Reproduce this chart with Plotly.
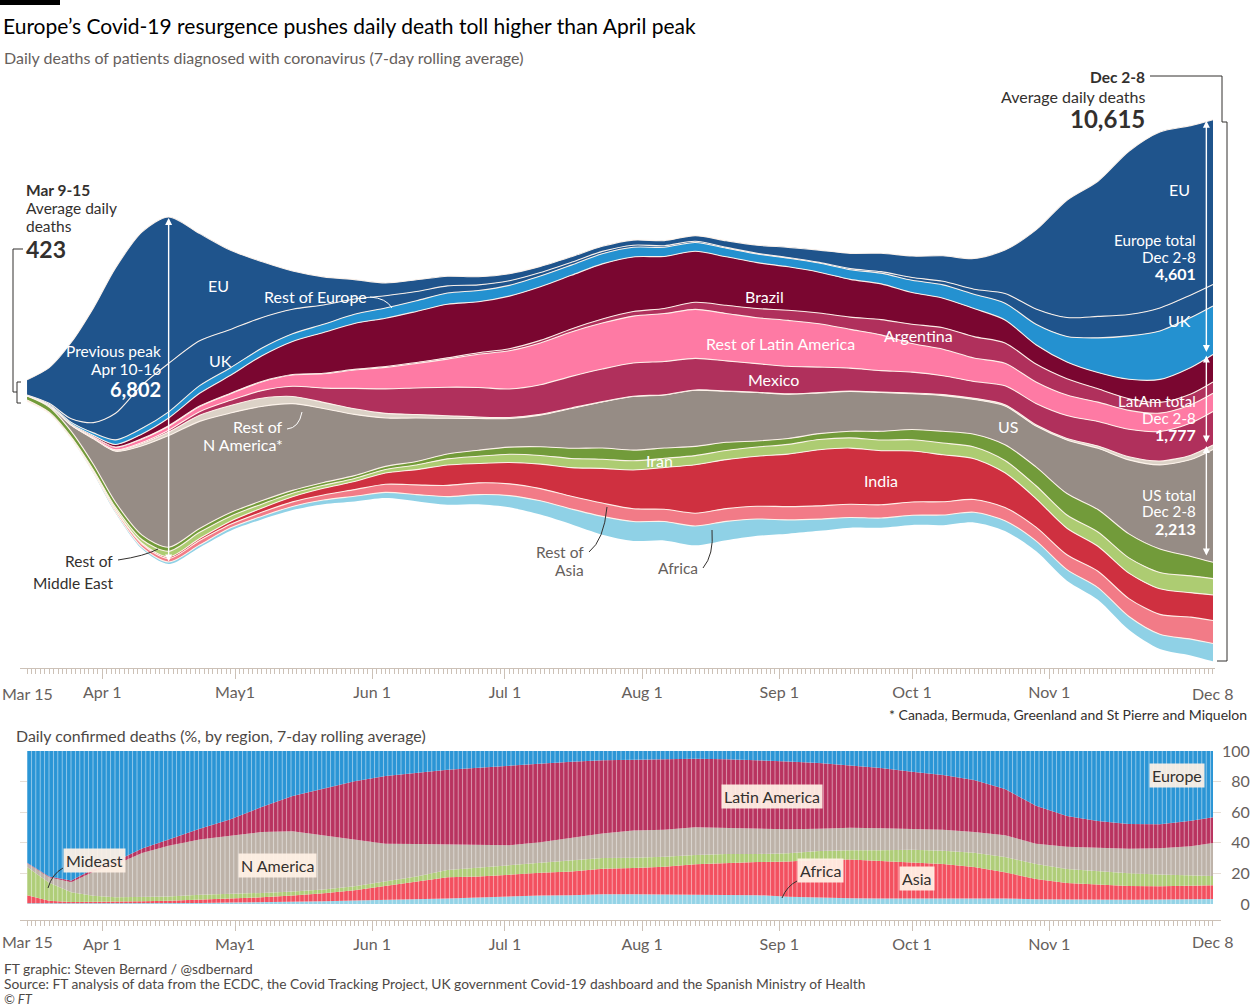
import pandas as pd
import plotly.graph_objects as go

W, H = 1260, 1006
def PX(x): return x / W
def PY(y): return 1 - y / H

FONT = "Lato"
INK = "#33302e"
GREY = "#66605c"
AXIS = "#ccc1b7"
LS = 16  # label size

# ---------------- data (7-day rolling average of daily deaths) ----------------
dates = ["2020-03-15","2020-03-20","2020-03-25","2020-03-30","2020-04-04","2020-04-10","2020-04-16",
         "2020-04-23","2020-04-30","2020-05-07","2020-05-14","2020-05-21","2020-05-28","2020-06-04",
         "2020-06-11","2020-06-18","2020-06-25","2020-07-02","2020-07-09","2020-07-16","2020-07-23",
         "2020-07-30","2020-08-06","2020-08-13","2020-08-20","2020-08-27","2020-09-03","2020-09-10",
         "2020-09-17","2020-09-24","2020-10-01","2020-10-08","2020-10-15","2020-10-22","2020-10-29",
         "2020-11-05","2020-11-12","2020-11-19","2020-11-26","2020-12-03","2020-12-08"]

eu = [301,700,1500,2250,2850,3000,2870,2100,1550,1100,750,550,380,250,230,190,160,140,120,110,100,
      100,100,110,130,160,200,240,300,360,420,500,600,850,1550,2300,2650,3200,3450,3320,3230]
uk = [3,20,70,200,520,850,950,880,750,600,480,380,300,240,180,140,110,90,70,55,45,
      40,30,25,15,12,12,12,20,30,55,70,100,190,300,370,420,420,450,440,420]
rest_europe = [5,15,30,50,90,110,120,150,150,150,150,160,180,200,210,220,220,210,210,200,200,
               190,180,170,170,170,170,180,190,210,240,260,280,330,400,500,680,850,950,980,951]
brazil = [0,2,10,25,50,90,150,250,350,500,650,800,900,950,1000,1050,1000,1030,1050,1050,1080,
          1070,1020,1000,950,900,850,800,740,700,620,580,550,450,380,330,320,380,450,520,540]
argentina = [0,0,1,3,5,8,10,10,10,10,10,10,12,15,20,25,30,40,50,60,80,
             90,100,140,160,180,200,210,240,300,380,420,420,400,350,320,260,230,210,210,220]
rest_latam = [1,3,10,25,50,70,80,100,130,170,220,280,360,420,480,550,650,750,820,870,900,
              920,940,960,930,900,900,850,760,700,560,520,460,440,420,400,380,370,360,360,360]
mexico = [0,0,1,3,8,20,35,70,100,150,200,280,400,480,520,560,580,560,580,620,640,
          650,650,620,590,560,540,500,450,420,410,370,330,370,420,450,480,540,580,630,657]
rest_n_america = [1,2,5,10,20,45,70,120,150,160,140,120,110,90,70,50,30,20,15,10,8,
                  6,6,6,5,5,5,5,7,10,15,20,22,25,25,30,45,60,75,85,85]
us = [10,30,120,500,1000,1750,2187,2100,1950,1850,1700,1450,1200,950,850,700,620,560,620,780,900,
      1050,1040,1100,1000,950,870,800,780,760,700,700,680,760,800,1050,1200,1450,1650,1900,2213]
iran = [75,100,110,110,100,90,80,75,70,65,55,55,55,60,70,95,120,140,170,200,220,
        210,200,180,160,120,115,115,130,170,200,230,250,310,370,420,440,470,460,380,320]
rest_mideast = [3,5,10,20,40,70,110,120,100,80,70,60,60,70,90,120,140,160,170,180,180,
                180,180,180,180,180,190,200,200,210,220,230,230,240,250,260,280,300,320,330,320]
india = [0,0,1,3,8,20,30,40,60,80,100,130,160,220,300,400,380,420,480,560,680,
         760,820,950,960,980,1030,1100,1100,1060,1000,920,800,680,560,520,490,500,500,480,500]
rest_asia = [22,15,15,25,40,60,70,90,70,80,90,100,130,160,190,220,230,230,240,250,260,
             250,240,250,250,250,260,260,260,260,260,260,250,260,270,290,320,350,390,430,450]
africa = [2,4,8,15,25,35,40,45,55,60,70,80,100,110,130,160,190,230,270,300,360,
          380,370,380,370,330,270,230,200,190,190,200,200,200,200,220,240,260,290,320,350]

month_ticks = ["2020-04-01","2020-05-01","2020-06-01","2020-07-01","2020-08-01",
               "2020-09-01","2020-10-01","2020-11-01","2020-12-01"]
month_labels = ["Apr 1","May1","Jun 1","Jul 1","Aug 1","Sep 1","Oct 1","Nov 1",""]
share_ticks = [0, 20, 40, 60, 80, 100]

# ---------------- figure ----------------
d = pd.to_datetime(dates)
n = len(dates)

layers = [  # bottom -> top
    ("Africa", africa, "#8fd1e6"),
    ("Rest of Asia", rest_asia, "#f27b87"),
    ("India", india, "#cf3040"),
    ("Rest of Middle East", rest_mideast, "#adcc72"),
    ("Iran", iran, "#729b3a"),
    ("US", us, "#968c85"),
    ("Rest of N America", rest_n_america, "#dcd2c7"),
    ("Mexico", mexico, "#b0305c"),
    ("Rest of Latin America", rest_latam, "#fe7aa4"),
    ("Argentina", argentina, "#b0305c"),
    ("Brazil", brazil, "#7a0630"),
    ("Rest of Europe", rest_europe, "#2491d0"),
    ("UK", uk, "#1f548c"),
    ("EU", eu, "#1f548c"),
]
total = [sum(v[i] for _, v, _ in layers) for i in range(n)]
base = [-t / 2 for t in total]

fig = go.Figure()
fig.add_trace(go.Scatter(x=d, y=base, mode="lines", line=dict(width=0, shape="spline", smoothing=0.8),
                         hoverinfo="skip", showlegend=False))
cum = base[:]
for name, vals, color in layers:
    cum = [c + v for c, v in zip(cum, vals)]
    fig.add_trace(go.Scatter(x=d, y=cum, name=name, mode="lines", fill="tonexty", fillcolor=color,
                             line=dict(color="rgba(255,244,236,0.95)", width=1.1, shape="spline", smoothing=0.8),
                             showlegend=False))

# regional shares (bottom chart)
europe_g = [a + b + c for a, b, c in zip(eu, uk, rest_europe)]
latam_g = [a + b + c + e for a, b, c, e in zip(brazil, argentina, rest_latam, mexico)]
nam_g = [a + b for a, b in zip(us, rest_n_america)]
me_g = [a + b for a, b in zip(iran, rest_mideast)]
asia_g = [a + b for a, b in zip(india, rest_asia)]
regions = [
    ("Africa", africa, "#94d3e6"),
    ("Asia", asia_g, "#f3505f"),
    ("Mideast", me_g, "#afcd78"),
    ("N America", nam_g, "#bdb2a8"),
    ("Latin America", latam_g, "#b8335f"),
    ("Europe", europe_g, "#2a95d5"),
]
for name, vals, color in regions:
    fig.add_trace(go.Scatter(x=d, y=vals, name=name, mode="lines", stackgroup="share", groupnorm="percent",
                             line=dict(width=0), fillcolor=color,
                             fillpattern=dict(shape="|", fgcolor="white", bgcolor=color, size=4.4,
                                              solidity=0.22),
                             xaxis="x2", yaxis="y2", showlegend=False))

# axes geometry
x0 = pd.Timestamp("2020-03-13 12:00")
x1 = pd.Timestamp("2020-12-08 12:00")
ppd = (1215.2 - 20.4) / ((x1 - x0) / pd.Timedelta(days=1))
x1b = x1 + pd.Timedelta(days=(1221 - 1215.2) / ppd)
daily = pd.date_range("2020-03-15", "2020-12-08", freq="D")

xcommon = dict(type="date", showline=True, linecolor=AXIS, linewidth=1, ticks="outside", ticklen=10,
               tickcolor=AXIS, tickvals=month_ticks, ticktext=month_labels,
               tickfont=dict(size=LS, color=GREY, family=FONT), showgrid=False, zeroline=False,
               minor=dict(tickvals=daily, ticks="outside", ticklen=5, tickcolor=AXIS, showgrid=False))

fig.update_layout(
    width=W, height=H, margin=dict(l=0, r=0, t=0, b=0, pad=0, autoexpand=False),
    paper_bgcolor="white", plot_bgcolor="rgba(0,0,0,0)",
    font=dict(family=FONT, color=INK), showlegend=False,
    xaxis=dict(domain=[PX(20.4), PX(1215.2)], range=[x0, x1], anchor="y", automargin=False, **xcommon),
    yaxis=dict(domain=[PY(668), PY(75)], range=[-5439, 6184], visible=False),
    xaxis2=dict(domain=[PX(20.4), PX(1221)], range=[x0, x1b], anchor="free", position=PY(920),
                automargin=False, **xcommon),
    yaxis2=dict(domain=[PY(904), PY(751)], range=[0, 100], anchor="x2", side="right", automargin=False,
                tickvals=share_ticks,
                ticktext=[f"{v:>3}".replace(" ", "\u2007") for v in share_ticks],
                showgrid=True, gridcolor="#e6ded6", gridwidth=1,
                zeroline=False, ticks="", showline=False, tickfont=dict(size=LS, color=GREY, family=FONT)),
)

def T(text, x, y, size=LS, color="white", align="center", **kw):
    fig.add_annotation(text=text, x=PX(x), y=PY(y), xref="paper", yref="paper", xanchor=align,
                       yanchor="middle", showarrow=False, font=dict(size=size, color=color, family=FONT), **kw)

# titles
T("Europe’s Covid-19 resurgence pushes daily death toll higher than April peak", 1, 26, 21, "#000000", "left")
T("Daily deaths of patients diagnosed with coronavirus (7-day rolling average)", 2, 58, 16, GREY, "left")

# left annotation
T("<b>Mar 9-15</b>", 24, 190, 15.5, INK, "left")
T("Average daily", 24, 208, 15.5, INK, "left")
T("deaths", 24, 226, 15.5, INK, "left")
T("<b>423</b>", 24, 249, 23, INK, "left")

# right annotation
T("<b>Dec 2-8</b>", 1147, 77, 15.5, INK, "right")
T("Average daily deaths", 1147, 96, 16, INK, "right")
T("<b>10,615</b>", 1147, 118, 24, INK, "right")

# stream labels
for txt, x, y in [("EU", 218, 285), ("Rest of Europe", 315, 297), ("UK", 220, 360),
                  ("Rest of", 258, 427), ("N America*", 243, 444), ("Brazil", 764, 297),
                  ("Argentina", 918, 335), ("Rest of Latin America", 780, 344), ("Mexico", 773, 380),
                  ("US", 1008, 427), ("Iran", 659, 460), ("India", 881, 480), ("EU", 1179, 190),
                  ("UK", 1179, 320)]:
    T(txt, x, y)
T("Previous peak", 163, 351, 15.5, "white", "right")
T("Apr 10-16", 163, 369, 15.5, "white", "right")
T("<b>6,802</b>", 163, 389, 20, "white", "right")
for lines, y0 in [(("Europe total", "Dec 2-8", "<b>4,601</b>"), 240),
                  (("LatAm total", "Dec 2-8", "<b>1,777</b>"), 401),
                  (("US total", "Dec 2-8", "<b>2,213</b>"), 495)]:
    T(lines[0], 1198, y0, 15.2, "white", "right")
    T(lines[1], 1198, y0 + 16.5, 15.2, "white", "right")
    T(lines[2], 1198, y0 + 33, 16, "white", "right")

T("Rest of", 115, 561, 15.5, INK, "right")
T("Middle East", 115, 583, 15.5, INK, "right")
T("Rest of", 586, 552, 15.5, GREY, "right")
T("Asia", 586, 570, 15.5, GREY, "right")
T("Africa", 700, 568, 15.5, GREY, "right")
T("* Canada, Bermuda, Greenland and St Pierre and Miquelon", 1249, 714, 14, INK, "right")

# axis end labels
for yy, xr in [(693, "x"), (941, "x2")]:
    for ds, lab in [("2020-03-15", "Mar 15"), ("2020-12-08", "Dec 8")]:
        fig.add_annotation(text=lab, x=ds, y=PY(yy), xref=xr, yref="paper", xanchor="center",
                           yanchor="middle", showarrow=False, font=dict(size=LS, color=GREY, family=FONT))

# bottom chart
T("Daily confirmed deaths (%, by region, 7-day rolling average)", 14, 735, 15.9, "#4d4845", "left")
for txt, x, y in [("Mideast", 94, 860), ("N America", 277, 865), ("Latin America", 772, 796),
                  ("Africa", 820, 870), ("Asia", 917, 878), ("Europe", 1177, 775)]:
    T(txt, x, y, LS, INK, "center", bgcolor="rgba(255,241,229,0.93)", borderpad=2)

# footer
T("FT graphic: Steven Bernard / @sdbernard", 2, 968, 13.8, "#4d4845", "left")
T("Source: FT analysis of data from the ECDC, the Covid Tracking Project, UK government Covid-19 dashboard and the Spanish Ministry of Health",
  2, 983.5, 13.8, "#4d4845", "left")
T("<i>© FT</i>", 2, 999, 13, "#4d4845", "left")

# double-headed arrows
def arrow(xd, ytop, ybot):
    fig.add_annotation(x=xd, y=ytop, ax=xd, ay=ybot, xref="x", yref="y", axref="x", ayref="y",
                       text="", showarrow=True, arrowside="end+start", arrowhead=2, startarrowhead=2,
                       arrowsize=1, startarrowsize=1, arrowwidth=1.4, arrowcolor="white",
                       standoff=1, startstandoff=1)

i_pk = dates.index("2020-04-16")
arrow("2020-04-16", total[i_pk] / 2, -total[i_pk] / 2)
top = total[-1] / 2
xr = "2020-12-06 12:00"
eur = eu[-1] + uk[-1] + rest_europe[-1]
lat = brazil[-1] + argentina[-1] + rest_latam[-1] + mexico[-1]
arrow(xr, top, top - eur)
arrow(xr, top - eur, top - eur - lat)
arrow(xr, top - eur - lat, top - eur - lat - us[-1])

# shapes
def path(pts, color, width=1, curve=False):
    if curve:
        (a, b), (c, e), (f, g) = pts
        p = f"M {PX(a)},{PY(b)} Q {PX(c)},{PY(e)} {PX(f)},{PY(g)}"
    else:
        p = "M " + " L ".join(f"{PX(a)},{PY(b)}" for a, b in pts)
    fig.add_shape(type="path", path=p, xref="paper", yref="paper", line=dict(color=color, width=width))

fig.add_shape(type="rect", x0=0, x1=PX(60), y0=PY(5), y1=PY(0), xref="paper", yref="paper",
              fillcolor="#000000", line=dict(width=0))
path([(23, 249), (13, 249), (13, 392), (17, 392)], INK)
path([(21, 382), (17, 382), (17, 403), (21, 403)], INK)
path([(1150, 76), (1222, 76), (1222, 122), (1227, 122), (1227, 661), (1217, 661)], INK)
path([(370, 297), (386, 298), (392, 308)], "white", 1, True)
path([(287, 429), (299, 428), (302, 412)], "white", 1, True)
path([(118, 560), (145, 556), (158, 549)], INK, 1, True)
path([(589, 552), (604, 540), (607, 507)], INK, 1, True)
path([(703, 568), (714, 555), (712, 530)], INK, 1, True)
path([(63, 868), (52, 874), (48, 888)], INK, 1, True)
path([(797, 881), (787, 886), (782, 898)], INK, 1, True)

fig.write_html("out.html")
